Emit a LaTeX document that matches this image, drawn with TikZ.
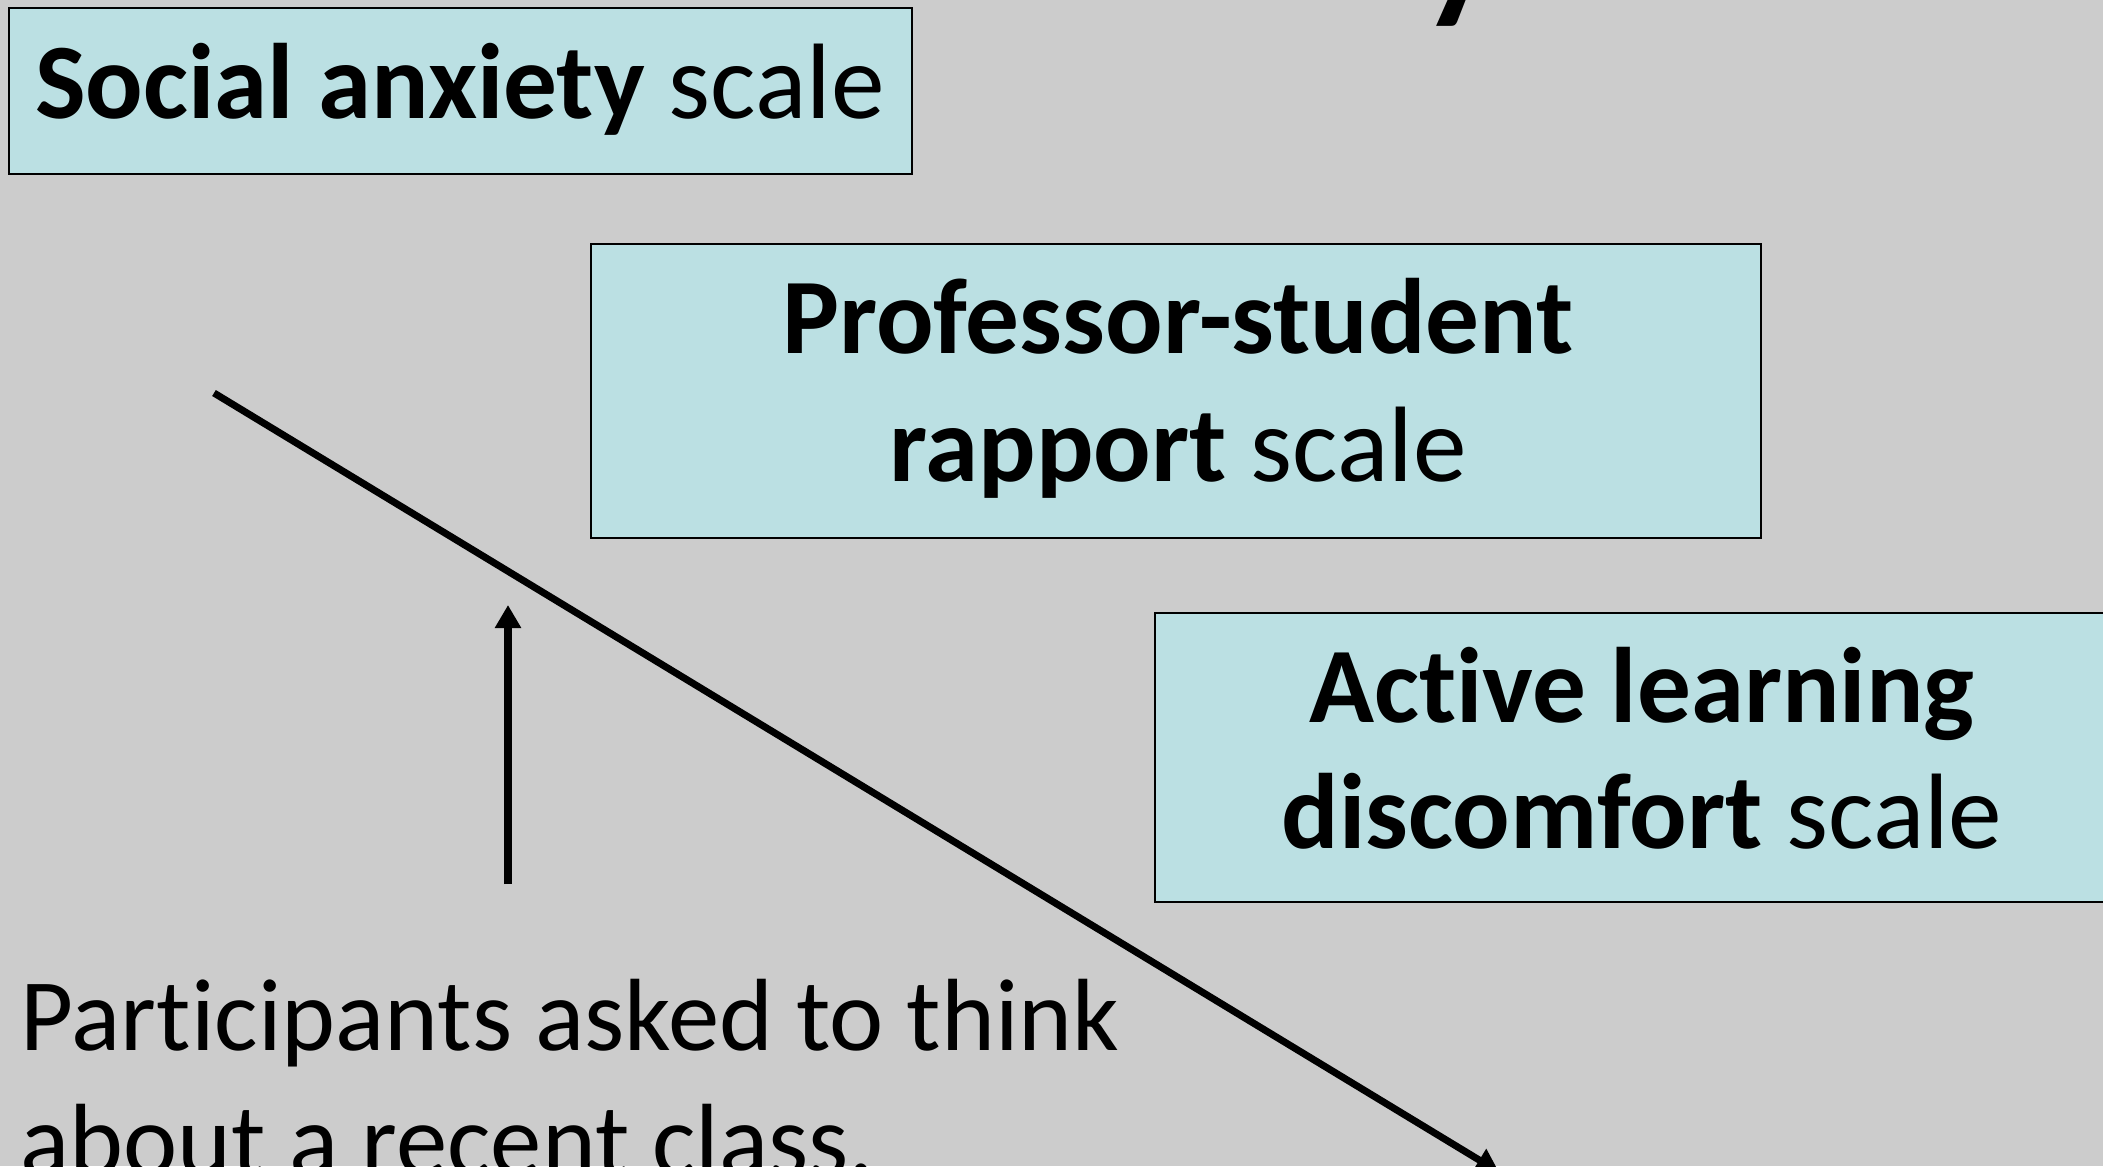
\documentclass[tikz,border=0pt]{standalone}
\usepackage{fontspec}
\setmainfont{Carlito}[Ligatures=NoCommon]
\usetikzlibrary{arrows.meta}
\definecolor{slidebg}{HTML}{CCCCCC}
\definecolor{boxfill}{HTML}{BBE0E3}

\begin{document}
\begin{tikzpicture}[x=0.01cm,y=-0.01cm,
  scalebox/.style={draw=black, line width=0.6pt, fill=boxfill, rectangle, inner sep=0pt},
  boxtext/.style={anchor=base, inner sep=0pt, font=\fontsize{30.5pt}{36.6pt}\selectfont},
  plaintext/.style={anchor=base west, inner sep=0pt, font=\fontsize{29.2pt}{35pt}\selectfont},
  flowarrow/.style={line width=2pt, -{Triangle[width=0.25cm,length=0.23cm]}}
]
\useasboundingbox (0,0) rectangle (2103,1166);
\clip (0,0) rectangle (2103,1166);
\fill[slidebg] (0,0) rectangle (2103,1166);

% heading letter running in from above
\node[anchor=base west, inner sep=0pt, font=\bfseries\fontsize{45pt}{54pt}\selectfont] (head) at (1421,1) {y};

% scale boxes
\node[scalebox, minimum width=9.03cm, minimum height=1.66cm] (social) at (460.5,91) {};
\node[scalebox, minimum width=11.70cm, minimum height=2.94cm] (rapport) at (1176,391) {};
\node[scalebox, minimum width=9.95cm, minimum height=2.89cm] (active) at (1652.5,757.5) {};

\node[boxtext] (socialtxt) at (460,118) {\textbf{Social anxiety} scale};
\node[boxtext] (rapporttxta) at (1178,353) {\textbf{Professor-student}};
\node[boxtext] (rapporttxtb) at (1178,481) {\textbf{rapport} scale};
\node[boxtext] (activetxta) at (1642,722) {\textbf{Active learning}};
\node[boxtext] (activetxtb) at (1642,848) {\textbf{discomfort} scale};

% instructions
\node[plaintext] (instra) at (20,1050) {Participants asked to think};
\node[plaintext] (instrb) at (20,1175) {about a recent class.};

% arrows
\coordinate (upfoot) at (508,884);
\coordinate (uptip) at (508,605);
\coordinate (diagstart) at (214,393);
\coordinate (diagtip) at (1499,1172);
\draw[flowarrow] (upfoot) -- (uptip);
\draw[flowarrow] (diagstart) -- (diagtip);
\end{tikzpicture}
\end{document}
